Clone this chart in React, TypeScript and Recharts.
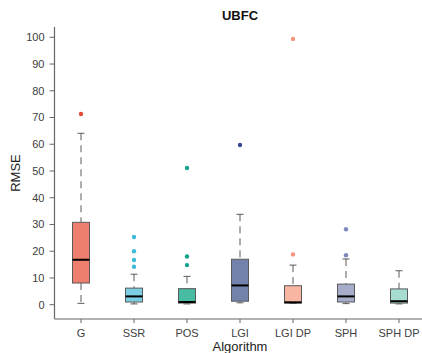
import { ComposedChart, Bar, XAxis, YAxis, Label } from 'recharts';

const categories = ['G', 'SSR', 'POS', 'LGI', 'LGI DP', 'SPH', 'SPH DP'];
const whiskerLow = [0.5, 0.3, 0.3, 0.7, 0.5, 0.4, 0.3];
const q1 = [8.1, 1.0, 0.6, 1.3, 0.6, 1.0, 0.6];
const median = [16.8, 3.1, 1.0, 7.2, 0.9, 3.1, 1.3];
const q3 = [30.8, 6.2, 6.0, 17.0, 7.1, 7.7, 5.9];
const whiskerHigh = [64.1, 11.4, 10.6, 33.8, 14.8, 17.1, 12.7];
const outliers = [
  [71.3],
  [25.3, 20.0, 16.7, 14.2],
  [51.1, 18.0, 14.8],
  [59.7],
  [99.4, 18.8],
  [28.2, 18.5],
  [],
];
const yTicks = [0, 10, 20, 30, 40, 50, 60, 70, 80, 90, 100];

const boxColors = ['#ee7f6f', '#7ccfe3', '#48bba3', '#7282aa', '#f7b5a2', '#a5adcb', '#a7ddd1'];
const dotColors = ['#e84a38', '#3cbcd9', '#0fa38a', '#334a93', '#f7937c', '#7e88bc', '#7e88bc'];

const data = categories.map((name, i) => ({
  name,
  range: [whiskerLow[i], whiskerHigh[i]],
  low: whiskerLow[i],
  high: whiskerHigh[i],
  q1: q1[i],
  median: median[i],
  q3: q3[i],
  outliers: outliers[i],
  fill: boxColors[i],
  dot: dotColors[i],
}));

const axisGrey = '#666';
const font = 'Liberation Sans, Arial, sans-serif';
const tickStyle = { fontSize: 11, fill: '#404040', fontFamily: font };

// draws one box from the range bar geometry (y/height span low..high)
function BoxShape(props: any) {
  const { x, y, width, height, payload } = props;
  if (!payload) return null;
  const { low, high } = payload;
  const per = height / (high - low);
  const toY = (v: number) => y + (high - v) * per;
  const cx = x + width / 2;
  const cap = 7;
  const stroke = '#5a5a5a';
  return (
    <g>
      <line x1={cx} x2={cx} y1={toY(high)} y2={toY(payload.q3)} stroke={stroke} strokeWidth={1} strokeDasharray="7 5" />
      <line x1={cx} x2={cx} y1={toY(payload.q1)} y2={toY(low)} stroke={stroke} strokeWidth={1} strokeDasharray="7 5" />
      <line x1={cx - cap / 2} x2={cx + cap / 2} y1={toY(high)} y2={toY(high)} stroke={stroke} strokeWidth={1} />
      <line x1={cx - cap / 2} x2={cx + cap / 2} y1={toY(low)} y2={toY(low)} stroke={stroke} strokeWidth={1} />
      <rect
        x={x}
        y={toY(payload.q3)}
        width={width}
        height={Math.max(toY(payload.q1) - toY(payload.q3), 1)}
        fill={payload.fill}
        stroke={stroke}
        strokeWidth={1}
      />
      <line x1={x} x2={x + width} y1={toY(payload.median)} y2={toY(payload.median)} stroke="#000" strokeWidth={2} />
      {payload.outliers.map((v: number, k: number) => (
        <circle key={k} cx={cx} cy={toY(v)} r={2.2} fill={payload.dot} />
      ))}
    </g>
  );
}

export default function App() {
  return (
    <div style={{ position: 'absolute', left: 0, top: 0, width: 422, height: 353, overflow: 'hidden', background: '#fff' }}>
      <div
        style={{
          position: 'absolute',
          top: 8,
          left: 0,
          width: 422,
          textAlign: 'center',
          paddingLeft: 58,
          boxSizing: 'border-box',
          fontFamily: font,
          fontWeight: 'bold',
          fontSize: 13,
          color: '#111',
        }}
      >
        UBFC
      </div>
      <ComposedChart
        width={430}
        height={353}
        data={data}
        margin={{ top: 27, right: 4.5, bottom: 0, left: 0 }}
        barCategoryGap={0}
      >
        <XAxis
          dataKey="name"
          tick={tickStyle}
          tickLine={{ stroke: axisGrey }}
          axisLine={{ stroke: axisGrey, strokeWidth: 1.2 }}
          tickSize={4}
          tickMargin={6}
          interval={0}
          height={34}
        >
          <Label
            value="Algorithm"
            position="bottom"
            offset={-11}
            style={{ fontSize: 13, fill: '#222', fontFamily: font }}
          />
        </XAxis>
        <YAxis
          type="number"
          domain={[-5.35, 103.85]}
          ticks={yTicks}
          width={54.5}
          tick={tickStyle}
          tickLine={{ stroke: axisGrey }}
          axisLine={{ stroke: axisGrey, strokeWidth: 1.2 }}
          tickSize={5}
          tickMargin={5}
          allowDataOverflow
        >
          <Label
            value="RMSE"
            angle={-90}
            position="insideLeft"
            offset={15}
            style={{ fontSize: 13, fill: '#222', fontFamily: font, textAnchor: 'middle' }}
          />
        </YAxis>
        <Bar dataKey="range" barSize={17} shape={<BoxShape />} isAnimationActive={false} />
      </ComposedChart>
    </div>
  );
}
